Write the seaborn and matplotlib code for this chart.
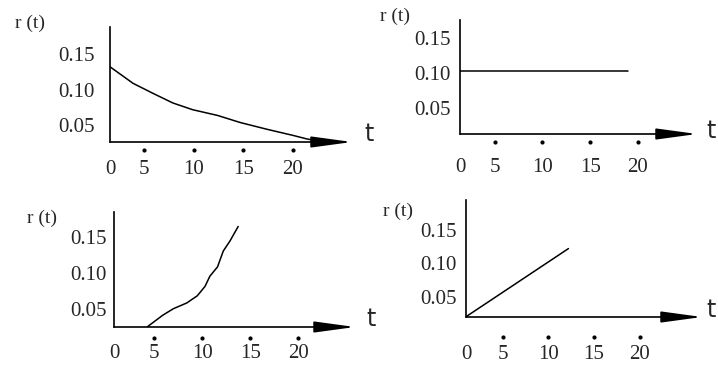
import matplotlib
matplotlib.use("Agg")
import matplotlib.pyplot as plt
from matplotlib.transforms import ScaledTranslation
import seaborn as sns

# r(t) sketches: decline, constant, rise, linear
t_decline = [1.6, 3.9, 5.9, 7.9, 9.9, 12.4, 14.7, 17.4, 20.0, 21.4, 22.6]
r_decline = [0.132, 0.109, 0.095, 0.0815, 0.072, 0.064, 0.054, 0.0445, 0.036, 0.031, 0.028]
t_flat = [1.4, 19.0]
r_flat = [0.103, 0.103]
t_rise = [4.3, 4.9, 5.9, 7.0, 8.4, 9.5, 10.3, 10.8, 11.6, 12.2, 12.9, 13.75]
r_rise = [0.026, 0.032, 0.042, 0.051, 0.059, 0.069, 0.082, 0.096, 0.109, 0.131, 0.145, 0.165]
t_linear = [1.0, 12.2]
r_linear = [0.021, 0.122]

x_dots = [5, 10, 15, 20]
x_labels = ["0", "5", "10", "15", "20"]
y_ticks = [0.05, 0.10, 0.15]
y_labels = ["0.05", "0.10", "0.15"]

sns.set_theme(style="white")
plt.rcParams["font.family"] = ["Liberation Serif", "DejaVu Serif"]

W, H = 718, 369
fig = plt.figure(figsize=(W / 100, H / 100), dpi=100)

# layout in pixels: (x0, ytop, x1, ybottom), axis limits, paddings
panels = [
    dict(t=t_decline, r=r_decline, box=(110, 27, 352, 142), xlim=(1.58, 25.95), ylim=(0.0267, 0.188),
         xpad=13, ypad=11, dot=8, rlab=(30, 23), tlab=(369, 134)),
    dict(t=t_flat, r=r_flat, box=(460, 20, 697, 134), xlim=(1.36, 26.2), ylim=(0.0125, 0.175),
         xpad=17, ypad=7, dot=8, rlab=(395, 16), tlab=(711, 131)),
    dict(t=t_rise, r=r_rise, box=(114, 212, 355, 327), xlim=(0.83, 25.9), ylim=(0.0257, 0.185),
         xpad=12, ypad=5, dot=11, rlab=(42, 218), tlab=(371, 319)),
    dict(t=t_linear, r=r_linear, box=(466, 200, 702, 317), xlim=(1.0, 26.8), ylim=(0.0206, 0.194),
         xpad=20, ypad=6.5, dot=20, rlab=(398, 211), tlab=(711, 310)),
]

for p in panels:
    x0, yt, x1, yb = p["box"]
    ax = fig.add_axes([x0 / W, (H - yb) / H, (x1 - x0) / W, (yb - yt) / H])
    ax.patch.set_alpha(0)
    sns.lineplot(x=p["t"], y=p["r"], ax=ax, color="black", linewidth=1.1)
    ax.set_xlim(*p["xlim"])
    ax.set_ylim(*p["ylim"])

    ax.set_xticks([p["xlim"][0]] + x_dots)
    ax.set_xticklabels(x_labels, fontsize=15)
    ax.set_yticks(y_ticks)
    ax.set_yticklabels(y_labels, fontsize=15)
    ax.tick_params(axis="x", length=0, pad=p["xpad"])
    ax.tick_params(axis="y", length=0, pad=p["ypad"])

    for s in ["top", "right", "bottom"]:
        ax.spines[s].set_visible(False)
    ax.spines["left"].set_color("black")
    ax.spines["left"].set_linewidth(1.2)

    # t axis drawn as an arrow
    ax.annotate("", xy=(1.0, 0), xytext=(0, 0), xycoords="axes fraction",
                arrowprops=dict(arrowstyle="-|>,head_length=1.25,head_width=0.17",
                                color="black", lw=1.2, mutation_scale=20,
                                shrinkA=0, shrinkB=0))

    # little dots under the axis at the tick positions
    trans = ax.get_xaxis_transform() + ScaledTranslation(0, -p["dot"] / 100, fig.dpi_scale_trans)
    ax.scatter(x_dots, [0] * len(x_dots), s=4, color="black", transform=trans, clip_on=False)

    fig.text(p["rlab"][0] / W, 1 - p["rlab"][1] / H, "r (t)", fontsize=14,
             ha="center", va="center")
    fig.text(p["tlab"][0] / W, 1 - p["tlab"][1] / H, "t", fontsize=17,
             family=["DejaVu Sans"], ha="center", va="center")

fig.savefig("out.png", dpi=100)
